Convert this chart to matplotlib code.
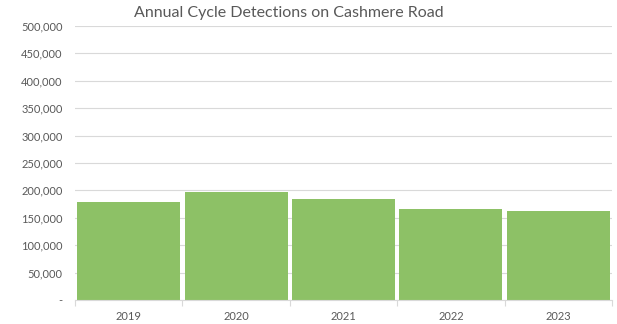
import numpy as np
import matplotlib.pyplot as plt
from matplotlib.ticker import FuncFormatter, MultipleLocator, FixedLocator

years = ["2019", "2020", "2021", "2022", "2023"]
detections = [179000, 197000, 184000, 166000, 162500]

plt.rcParams["font.family"] = ["Lato", "DejaVu Sans"]

fig = plt.figure(figsize=(6.17, 3.24), dpi=100)
ax = fig.add_axes([75 / 617, 1 - 300 / 324, 537 / 617, 274 / 324])

x = np.arange(len(years))
ax.bar(x, detections, width=0.96, color="#8DC166", zorder=2)

ax.set_xlim(-0.5, len(years) - 0.5)
ax.set_ylim(0, 500000)
ax.yaxis.set_major_locator(MultipleLocator(50000))
ax.yaxis.set_major_formatter(FuncFormatter(lambda v, p: "-" if v == 0 else f"{v:,.0f}"))
ax.grid(axis="y", color="#D9D9D9", linewidth=0.8, zorder=0)

ax.set_xticks(x)
ax.set_xticklabels(years)
ax.xaxis.set_minor_locator(FixedLocator(np.arange(-0.5, len(years), 1.0)))
ax.tick_params(axis="x", which="major", length=0, pad=8, labelsize=8, labelcolor="#595959")
ax.tick_params(axis="x", which="minor", length=4, color="#D9D9D9", width=0.8)
ax.tick_params(axis="y", length=0, pad=9, labelsize=8, labelcolor="#595959")

for side in ["top", "right", "left"]:
    ax.spines[side].set_visible(False)
ax.spines["bottom"].set_color("#D9D9D9")
ax.spines["bottom"].set_linewidth(0.8)

fig.text(289 / 617, 1 - 13 / 324, "Annual Cycle Detections on Cashmere Road",
         ha="center", va="center", fontsize=11.5, color="#595959")

fig.savefig("out.png", dpi=100)
